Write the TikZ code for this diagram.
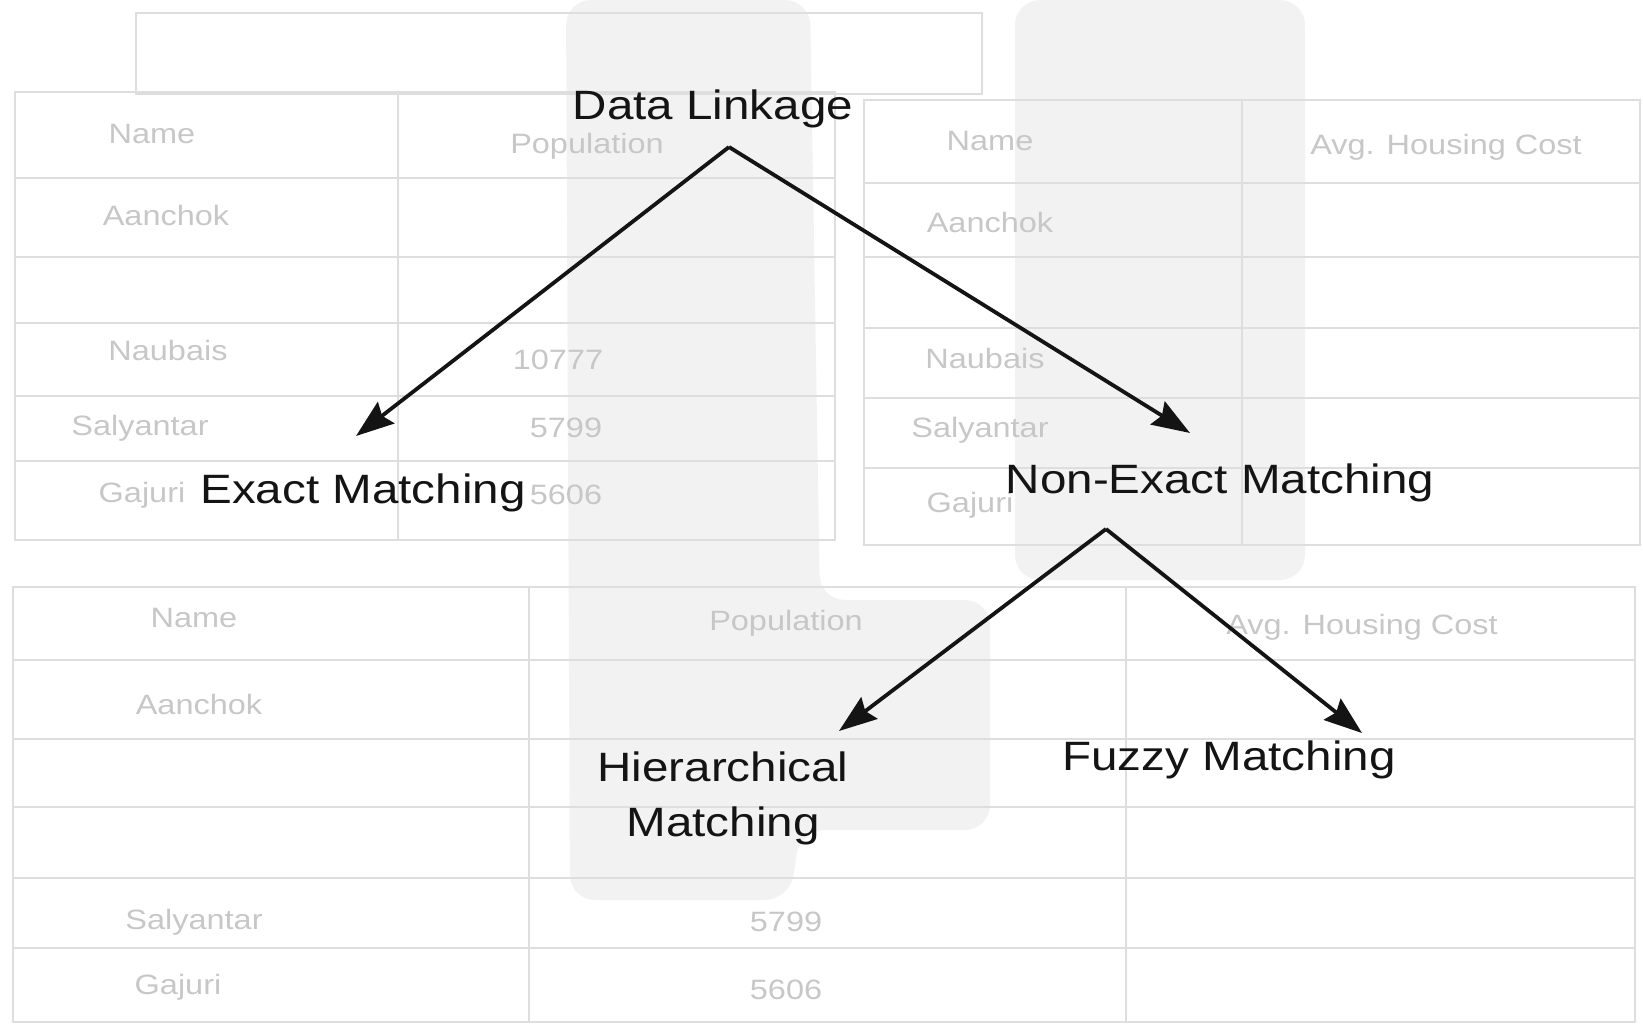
\documentclass[tikz,border=0pt]{standalone}
\usepackage{fontspec}
\setmainfont{Liberation Sans}[FakeStretch=1.16]
\usetikzlibrary{arrows.meta,calc}
\tikzset{
  lbl/.style={inner sep=0pt, anchor=base, font=\fontsize{41}{55}\selectfont, text=black!92},
  conn/.style={line width=3.8pt, draw=black!92, -{Stealth[length=38pt,width=27pt,inset=5pt]}},
  grid/.style={draw=black!13, line width=2.5pt},
  faint/.style={inner sep=0pt, text=black!22, font=\fontsize{28}{30}\selectfont},
  shade/.style={fill=black!5, draw=none, rounded corners=25pt}
}
\begin{document}
\begin{tikzpicture}[x=1pt,y=-1pt]
\useasboundingbox (0,0) rectangle (1643,1031);
% faint scanned background
\fill[shade] (566,0) -- (810,0) -- (820,600) -- (990,600) -- (990,830) -- (800,830) -- (790,900) -- (570,900) -- cycle;
\fill[shade] (1015,0) rectangle (1305,580);
\draw[grid] (136,13) rectangle (982,94);
% table 1
\draw[grid] (15,92) rectangle (835,540);
\foreach \yy in {178,257,323,396,461} \draw[grid] (15,\yy) -- (835,\yy);
\draw[grid] (398,92) -- (398,540);
\node[faint] (t1a) at (152,134) {Name};
\node[faint] (t1b) at (587,146) {Population};
\node[faint] (t1c) at (166,215) {Aanchok};
\node[faint] (t1d) at (168,350) {Naubais};
\node[faint] (t1e) at (558,360) {10777};
\node[faint] (t1f) at (140,428) {Salyantar};
\node[faint] (t1g) at (566,428) {5799};
\node[faint] (t1h) at (142,495) {Gajuri};
\node[faint] (t1i) at (566,495) {5606};
% table 2
\draw[grid] (864,100) rectangle (1640,545);
\foreach \yy in {183,257,328,398,468} \draw[grid] (864,\yy) -- (1640,\yy);
\draw[grid] (1242,100) -- (1242,545);
\node[faint] (t2a) at (990,141) {Name};
\node[faint] (t2b) at (1446,147) {Avg. Housing Cost};
\node[faint] (t2c) at (990,222) {Aanchok};
\node[faint] (t2d) at (985,358) {Naubais};
\node[faint] (t2e) at (980,430) {Salyantar};
\node[faint] (t2f) at (970,505) {Gajuri};
% table 3
\draw[grid] (13,587) rectangle (1635,1022);
\foreach \yy in {660,739,807,878,948} \draw[grid] (13,\yy) -- (1635,\yy);
\draw[grid] (529,587) -- (529,1022);
\draw[grid] (1126,587) -- (1126,1022);
\node[faint] (t3a) at (194,618) {Name};
\node[faint] (t3b) at (786,623) {Population};
\node[faint] (t3c) at (1362,627) {Avg. Housing Cost};
\node[faint] (t3d) at (199,704) {Aanchok};
\node[faint] (t3e) at (194,922) {Salyantar};
\node[faint] (t3f) at (786,922) {5799};
\node[faint] (t3g) at (178,987) {Gajuri};
\node[faint] (t3h) at (786,990) {5606};
% tree
\node[lbl] (dl) at (713,119) {Data Linkage};
\node[lbl] (em) at (363,503) {Exact Matching};
\node[lbl] (nem) at (1220,493) {Non-Exact Matching};
\node[lbl, align=center] (hm) at (723,836) {Hierarchical\\Matching};
\node[lbl] (fm) at (1229,770) {Fuzzy Matching};
\coordinate (dlA) at ($(dl.base)+(16,28)$);
\coordinate (nemA) at ($(nem.base)+(-114,36)$);
\coordinate (emT) at ($(em.base)+(-7,-67)$);
\coordinate (nemT) at ($(nem.base)+(-30,-60)$);
\coordinate (hmT) at ($(hm.base)+(116,-105)$);
\coordinate (fmT) at ($(fm.base)+(133,-37)$);
\draw[conn] (dlA) -- (emT);
\draw[conn] (dlA) -- (nemT);
\draw[conn] (nemA) -- (hmT);
\draw[conn] (nemA) -- (fmT);
\end{tikzpicture}
\end{document}
